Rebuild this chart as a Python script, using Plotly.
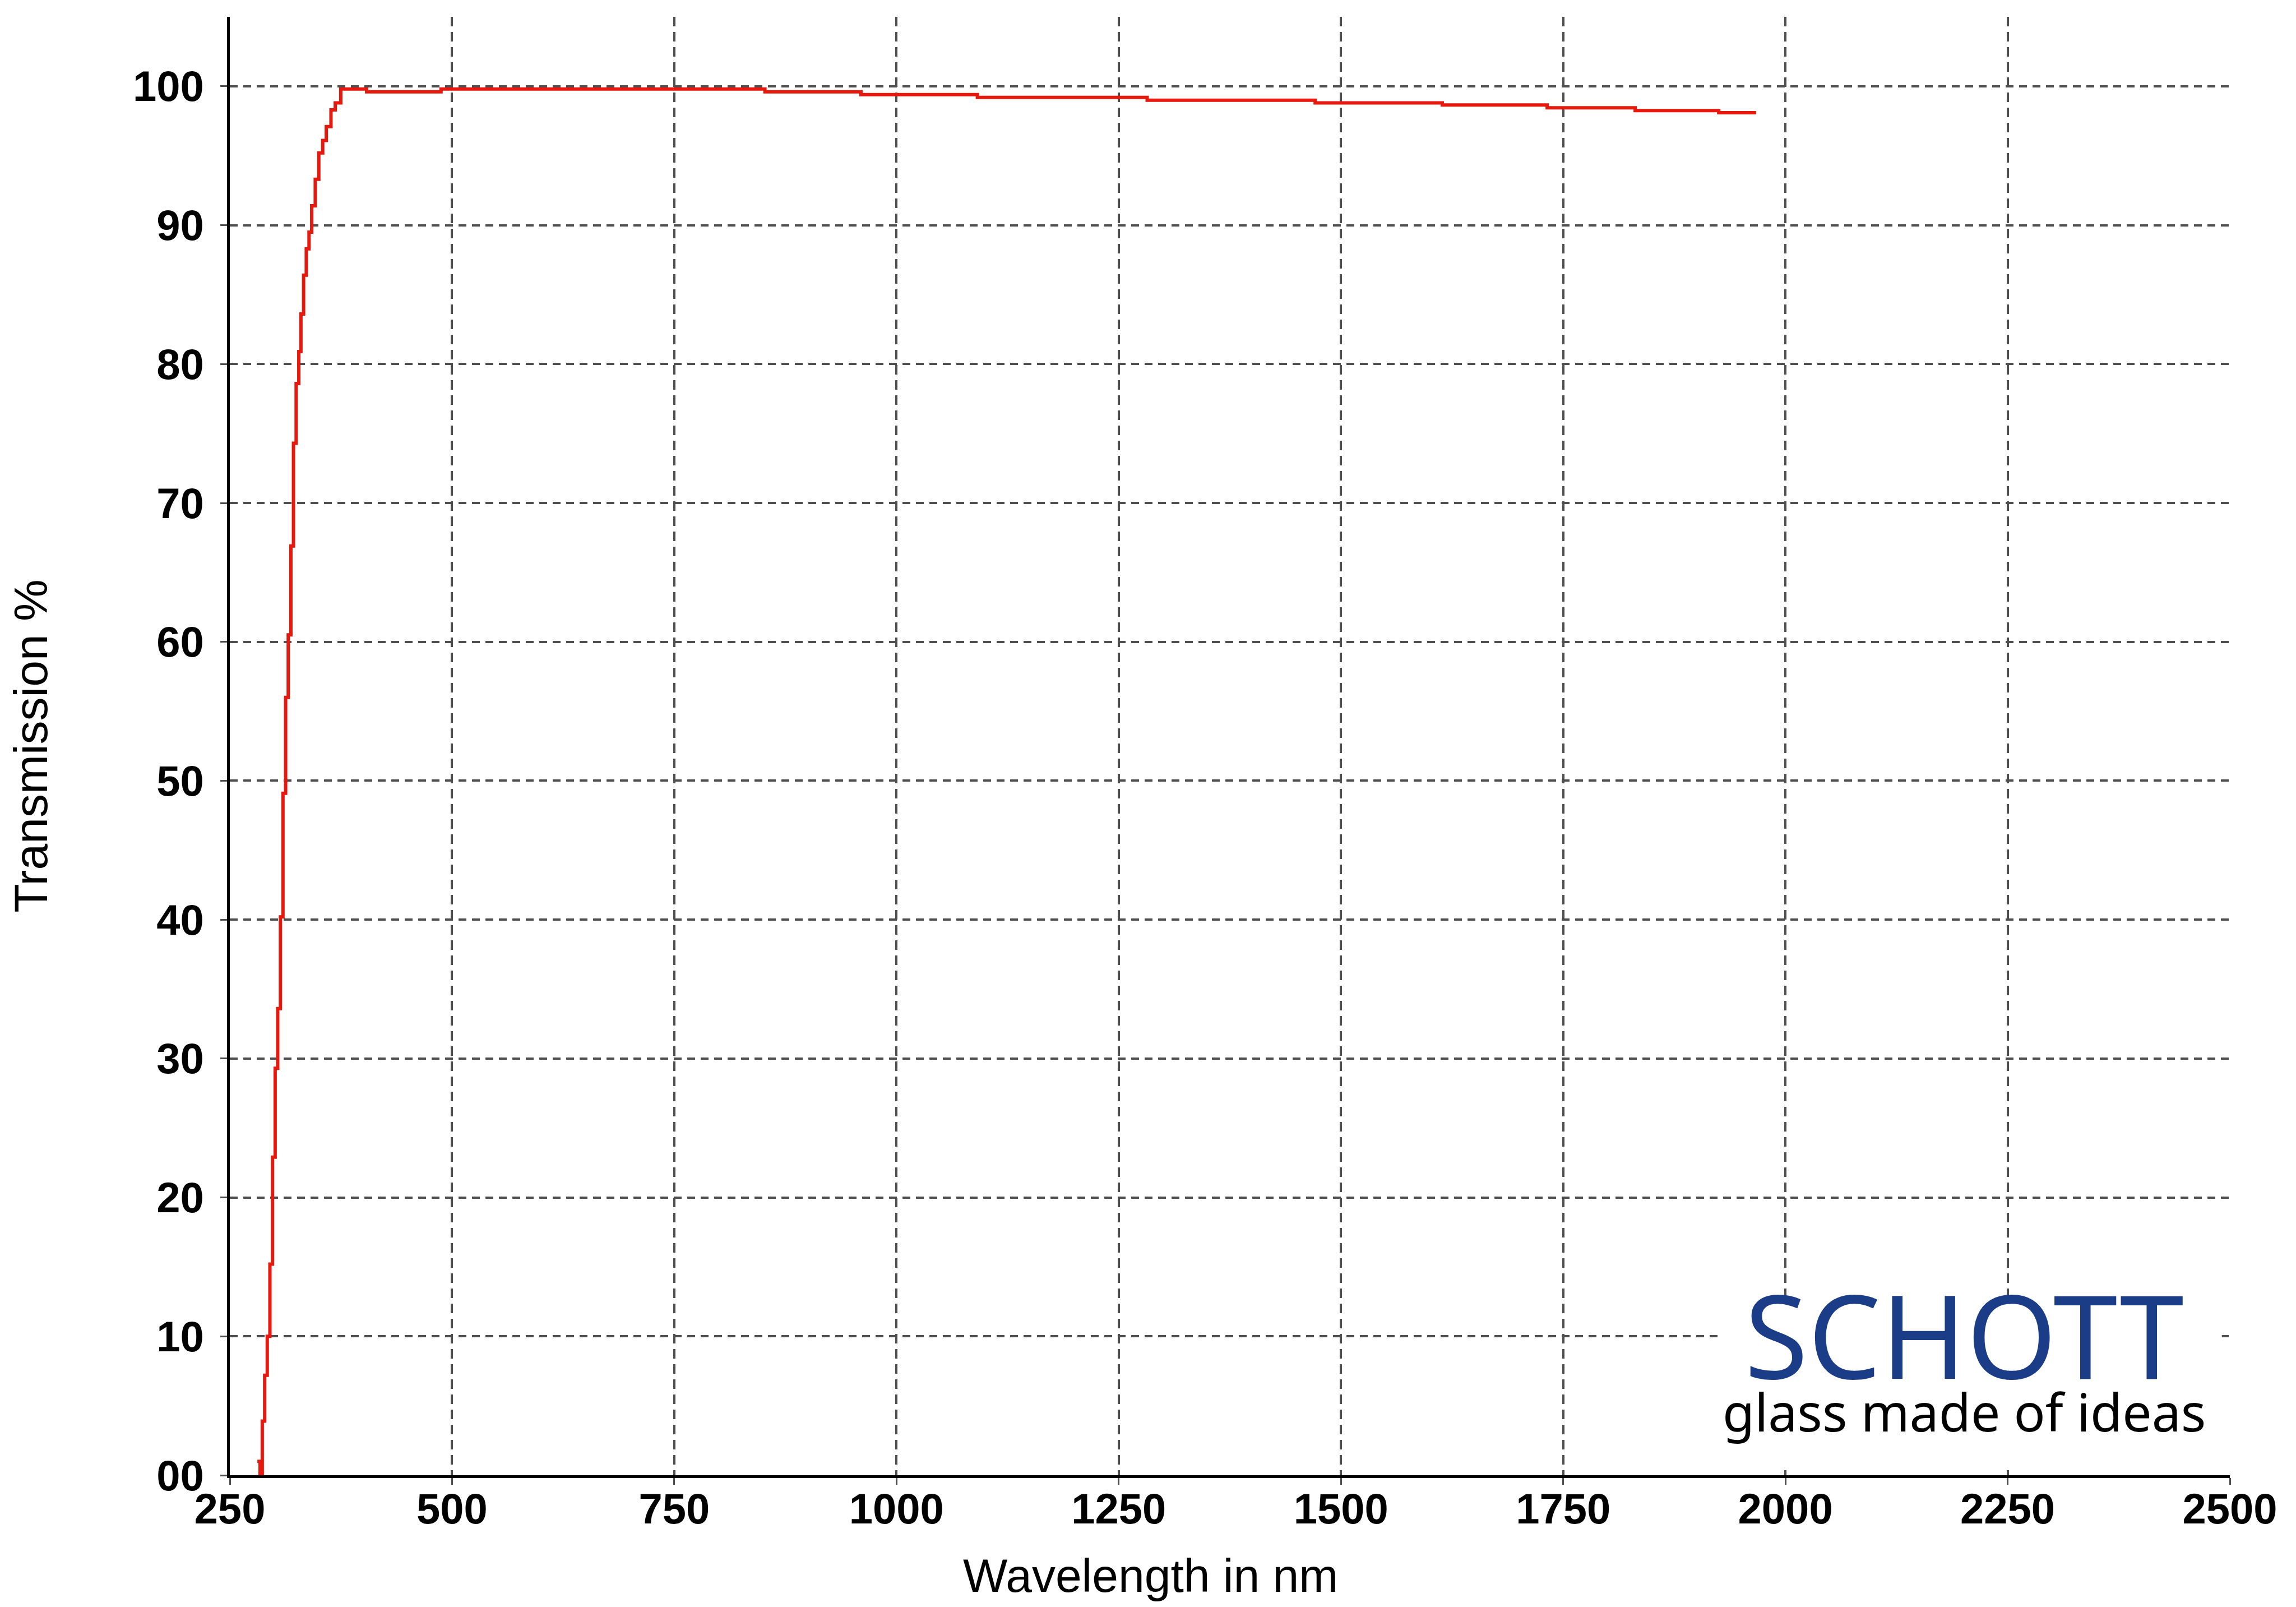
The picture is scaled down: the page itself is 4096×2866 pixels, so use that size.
import plotly.graph_objects as go

# ---- data ----
wavelength_nm = [281, 284, 286.5, 289.2, 292.1, 295.1, 298.0, 301.0, 303.9, 306.9,
                 309.8, 312.8, 315.7, 318.7, 321.6, 324.6, 327.6, 330.0, 333.0, 336.0,
                 339.1, 342.1, 346.1, 350.1, 354.5, 358.5, 363.8, 368.6, 374.8, 403.9,
                 487.6, 852, 960, 1091, 1282, 1471, 1614, 1732, 1831, 1925, 1967]
transmission_pct = [1.0, 0.0, 3.9, 7.2, 10.0, 15.2, 22.9, 29.3, 33.6, 40.2,
                    49.1, 56.0, 60.5, 66.9, 74.3, 78.6, 80.9, 83.6, 86.4, 88.3,
                    89.5, 91.4, 93.3, 95.2, 96.1, 97.1, 98.3, 98.8, 99.8, 99.6,
                    99.8, 99.6, 99.4, 99.2, 99.0, 98.8, 98.65, 98.45, 98.25, 98.1, 98.1]

x_tick_vals = [250, 500, 750, 1000, 1250, 1500, 1750, 2000, 2250, 2500]
x_tick_text = ["250", "500", "750", "1000", "1250", "1500", "1750", "2000", "2250", "2500"]
y_tick_vals = [0, 10, 20, 30, 40, 50, 60, 70, 80, 90, 100]
y_tick_text = ["00", "10", "20", "30", "40", "50", "60", "70", "80", "90", "100"]

x_title = "Wavelength in nm"
y_title = "Transmission %"
logo_name = "SCHOTT"
logo_tagline = "glass made of ideas"

# ---- figure ----
W, H = 4096, 2866
ML, MR, MT, MB = 402, 126, 22, 243

fig = go.Figure()
fig.add_trace(go.Scatter(
    x=wavelength_nm, y=transmission_pct, mode="lines",
    line=dict(color="#e5190e", width=6, shape="hv"),
    showlegend=False, hoverinfo="x+y",
))

grid_col = "#4f4f4f"
tick_font = dict(family="Liberation Sans, Arial, sans-serif", size=76, color="black", weight="bold")

fig.update_xaxes(
    range=[250, 2500], tickmode="array", tickvals=x_tick_vals, ticktext=x_tick_text,
    showline=True, linecolor="black", linewidth=5,
    ticks="outside", ticklen=12, tickwidth=3, tickcolor=grid_col,
    showgrid=True, gridcolor=grid_col, gridwidth=4, griddash="17px,10px",
    zeroline=False, tickfont=tick_font, ticklabelstandoff=-22,
)
fig.update_yaxes(
    range=[0, 105], tickmode="array", tickvals=y_tick_vals, ticktext=y_tick_text,
    showline=True, linecolor="black", linewidth=5,
    ticks="outside", ticklen=12, tickwidth=3, tickcolor=grid_col,
    showgrid=True, gridcolor=grid_col, gridwidth=4, griddash="14px,10px",
    zeroline=False, tickfont=tick_font, ticklabelstandoff=14,
    title=dict(text=y_title, standoff=135,
               font=dict(family="Liberation Sans, Arial, sans-serif", size=84, color="black")),
)

# white backing box of the logo (hides the grid behind it)
fig.add_shape(type="rect", xref="x", yref="y", x0=1928, x1=2491, y0=0.6, y1=12.87,
              fillcolor="white", line=dict(width=0), layer="between")

# logo: name + tagline as one two-line text block
logo_text = (f'<span style="font-size:206px;color:#1b3c86">{logo_name}</span>'
             f'<br><span style="font-size:93px">{logo_tagline}</span>')
fig.add_annotation(text=logo_text, xref="x", yref="y", x=2201, y=8.95,
                   xanchor="center", yanchor="middle", showarrow=False, align="center",
                   font=dict(family="Noto Sans, Open Sans, sans-serif", size=72, color="black"))

# x axis title (offset left of centre as in the reference)
fig.add_annotation(text=x_title, xref="paper", yref="paper",
                   x=(2044 - ML) / (W - ML - MR), y=-(2802 - (H - MB)) / (H - MT - MB),
                   xanchor="center", yanchor="middle", showarrow=False,
                   font=dict(family="Liberation Sans, Arial, sans-serif", size=84, color="black"))

fig.update_layout(
    width=W, height=H,
    margin=dict(l=ML, r=MR, t=MT, b=MB, autoexpand=False),
    paper_bgcolor="white", plot_bgcolor="white",
    showlegend=False,
)

fig.write_html("out.html")
